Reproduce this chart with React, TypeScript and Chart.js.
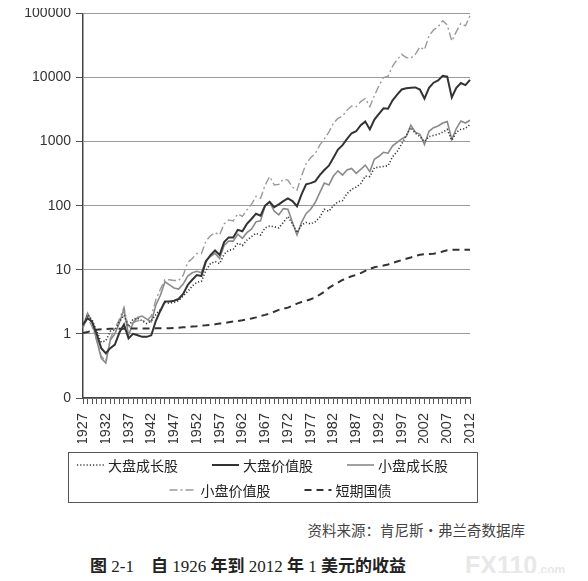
import React, { useEffect, useRef } from "react";
import { Chart, registerables } from "chart.js";

Chart.register(...registerables);

const years = [
  "1927","1928","1929","1930","1931","1932","1933","1934","1935","1936",
  "1937","1938","1939","1940","1941","1942","1943","1944","1945","1946",
  "1947","1948","1949","1950","1951","1952","1953","1954","1955","1956",
  "1957","1958","1959","1960","1961","1962","1963","1964","1965","1966",
  "1967","1968","1969","1970","1971","1972","1973","1974","1975","1976",
  "1977","1978","1979","1980","1981","1982","1983","1984","1985","1986",
  "1987","1988","1989","1990","1991","1992","1993","1994","1995","1996",
  "1997","1998","1999","2000","2001","2002","2003","2004","2005","2006",
  "2007","2008","2009","2010","2011","2012",
];

const xTickLabels = [
  "1927","1932","1937","1942","1947","1952","1957","1962","1967",
  "1972","1977","1982","1987","1992","1997","2002","2007","2012",
];

const yTickValues = [0.1, 1, 10, 100, 1000, 10000, 100000];
const yTickLabels = ["0", "1", "10", "100", "1000", "10000", "100000"];

const seriesNames = ["大盘成长股", "大盘价值股", "小盘成长股", "小盘价值股", "短期国债"];

// 大盘成长股
const largeGrowth = [
  1.35, 2.0, 1.65, 1.1, 0.75, 0.78, 1.1, 1.15, 1.55, 1.95,
  1.3, 1.7, 1.75, 1.6, 1.45, 1.6, 2.0, 2.4, 3.1, 3.0,
  3.1, 3.3, 3.9, 4.6, 5.6, 6.4, 6.6, 9.8, 12.5, 13.5,
  12.5, 17.5, 20, 21, 26, 24, 29, 33, 37, 35,
  45, 48, 47, 45, 55, 68, 52, 38, 50, 55,
  52, 56, 66, 88, 82, 100, 115, 120, 155, 180,
  195, 220, 290, 285, 390, 400, 410, 420, 580, 700,
  920, 1250, 1650, 1350, 1200, 1000, 1200, 1250, 1300, 1400,
  1550, 1050, 1400, 1550, 1600, 1850,
];

// 大盘价值股
const largeValue = [
  1.4, 1.75, 1.55, 1.0, 0.6, 0.5, 0.6, 0.68, 1.05, 1.4,
  0.85, 1.0, 0.95, 0.9, 0.9, 0.95, 1.6, 2.3, 3.2, 3.2,
  3.3, 3.5, 4.2, 5.8, 7.0, 8.3, 8.0, 13.5, 17, 20,
  17, 27, 32, 32, 42, 40, 52, 62, 75, 70,
  100, 115, 95, 105, 118, 130, 118, 98, 150, 215,
  225, 240, 300, 360, 420, 560, 750, 880, 1100, 1350,
  1450, 1800, 2050, 1550, 2200, 2700, 3300, 3250, 4400, 5400,
  6500, 6800, 6900, 7000, 6500, 4700, 6900, 8300, 9000, 10600,
  10300, 4900, 6900, 8200, 7600, 9200,
];

// 小盘成长股
const smallGrowth = [
  1.3, 2.1, 1.5, 0.8, 0.42, 0.35, 0.8, 1.0, 1.5, 2.4,
  0.95, 1.5, 1.8, 1.9, 1.7, 1.55, 2.8, 4.0, 6.5, 5.8,
  5.2, 5.0, 6.0, 8.0, 9.0, 9.5, 9.0, 14, 16, 18,
  15, 24, 28, 28, 36, 31, 38, 43, 56, 58,
  100, 115, 82, 72, 90, 88, 55, 35, 55, 75,
  88, 112, 160, 225, 210, 290, 350, 300, 360, 380,
  320, 370, 430, 340, 530, 590, 680, 660, 860, 970,
  1100, 1200, 1800, 1400, 1300, 900, 1450, 1650, 1750, 1950,
  2050, 1080, 1600, 2100, 1950, 2150,
];

// 小盘价值股
const smallValue = [
  1.25, 1.8, 1.3, 0.8, 0.45, 0.38, 0.85, 1.2, 1.7, 2.6,
  1.2, 1.5, 1.6, 1.6, 1.6, 1.9, 3.4, 5.0, 7.0, 7.0,
  6.8, 6.8, 8.2, 13, 15, 18, 18, 28, 34, 38,
  35, 52, 60, 58, 75, 68, 86, 105, 140, 130,
  210, 285, 210, 215, 260, 250, 195, 175, 290, 450,
  560, 650, 880, 1100, 1400, 1950, 2300, 2500, 3100, 3600,
  3500, 4200, 4700, 3500, 5200, 7500, 10000, 10500, 15000, 19000,
  23000, 20500, 20000, 23000, 30000, 27000, 45000, 55000, 62000, 77000,
  66000, 37000, 52000, 70000, 64000, 92000,
];

// 短期国债
const tBills = [
  1.03, 1.07, 1.12, 1.16, 1.18, 1.19, 1.2, 1.2, 1.2, 1.2,
  1.21, 1.21, 1.21, 1.21, 1.21, 1.21, 1.22, 1.22, 1.23, 1.23,
  1.24, 1.25, 1.27, 1.28, 1.3, 1.32, 1.35, 1.36, 1.38, 1.41,
  1.45, 1.47, 1.52, 1.56, 1.59, 1.63, 1.68, 1.74, 1.81, 1.9,
  1.98, 2.08, 2.22, 2.37, 2.47, 2.57, 2.75, 2.97, 3.14, 3.3,
  3.47, 3.72, 4.1, 4.55, 5.22, 5.78, 6.29, 6.93, 7.47, 7.93,
  8.35, 8.88, 9.6, 10.35, 10.93, 11.31, 11.65, 12.11, 12.8, 13.47,
  14.18, 14.89, 15.58, 16.49, 17.16, 17.44, 17.62, 17.84, 18.38, 19.26,
  20.17, 20.46, 20.48, 20.51, 20.52, 20.53,
];

const boxedLegend = {
  id: "boxedLegend",
  afterDraw(chart: any) {
    const { ctx, chartArea } = chart;
    const xScale = chart.scales.x;
    const top = xScale.bottom + 9;
    const bottom = chart.height - 4;
    const left = chartArea.left - 15;
    const right = chartArea.right + 7;
    ctx.save();
    ctx.strokeStyle = "#555";
    ctx.lineWidth = 1;
    ctx.setLineDash([]);
    ctx.strokeRect(Math.round(left) + 0.5, Math.round(top) + 0.5, right - left, bottom - top);
    ctx.font = '14px "Noto Sans CJK SC"';
    ctx.textBaseline = "middle";
    ctx.textAlign = "left";
    const rows = [[0, 1, 2], [3, 4]];
    const rowY = [top + 13, top + 38];
    const rowShift = [-10, 8];
    const sampleW = 27;
    const textGap = 4;
    const itemGap = 34;
    rows.forEach((row, r) => {
      const widths = row.map(
        (i) => sampleW + textGap + ctx.measureText(chart.data.datasets[i].label).width
      );
      const total = widths.reduce((a: number, b: number) => a + b, 0) + itemGap * (row.length - 1);
      let x = (left + right) / 2 - total / 2 + rowShift[r];
      row.forEach((i, k) => {
        const ds = chart.data.datasets[i];
        ctx.save();
        ctx.strokeStyle = ds.borderColor;
        ctx.lineWidth = ds.borderWidth;
        ctx.setLineDash(ds.borderDash || []);
        ctx.lineCap = ds.borderCapStyle || "butt";
        ctx.beginPath();
        ctx.moveTo(x, rowY[r]);
        ctx.lineTo(x + sampleW, rowY[r]);
        ctx.stroke();
        ctx.restore();
        ctx.fillStyle = "#222";
        ctx.fillText(ds.label, x + sampleW + textGap, rowY[r] + 0.5);
        x += widths[k] + itemGap;
      });
    });
    ctx.restore();
  },
};

const cjk = { fontFamily: '"Noto Sans CJK SC", sans-serif', fontWeight: 700 } as const;

export default function App() {
  const canvasRef = useRef<HTMLCanvasElement | null>(null);

  useEffect(() => {
    document.documentElement.style.overflow = "hidden";
    if (!canvasRef.current) return;
    const tickFont = { family: '"Liberation Sans", Arial, sans-serif', size: 14 };
    const chart = new Chart(canvasRef.current, {
      type: "line",
      data: {
        labels: years,
        datasets: [
          {
            label: seriesNames[0],
            data: largeGrowth,
            borderColor: "#3a3a3a",
            borderWidth: 1.6,
            borderDash: [1.2, 2],
            pointRadius: 0,
            tension: 0,
            fill: false,
            order: 2,
          },
          {
            label: seriesNames[1],
            data: largeValue,
            borderColor: "#333333",
            borderWidth: 2,
            borderDash: [],
            pointRadius: 0,
            tension: 0,
            fill: false,
            order: 0,
          },
          {
            label: seriesNames[2],
            data: smallGrowth,
            borderColor: "#8a8a8a",
            borderWidth: 1.6,
            borderDash: [],
            pointRadius: 0,
            tension: 0,
            fill: false,
            order: 3,
          },
          {
            label: seriesNames[3],
            data: smallValue,
            borderColor: "#9a9a9a",
            borderWidth: 1.4,
            borderDash: [8, 3, 2, 3],
            pointRadius: 0,
            tension: 0,
            fill: false,
            order: 4,
          },
          {
            label: seriesNames[4],
            data: tBills,
            borderColor: "#333333",
            borderWidth: 2,
            borderDash: [7, 5],
            pointRadius: 0,
            tension: 0,
            fill: false,
            order: 1,
          },
        ],
      },
      options: {
        animation: false,
        responsive: true,
        maintainAspectRatio: false,
        layout: { padding: { top: 10, right: 110, bottom: 63, left: 0 } },
        plugins: {
          legend: { display: false },
          tooltip: { enabled: false },
        },
        scales: {
          x: {
            type: "category",
            offset: false,
            grid: {
              drawOnChartArea: false,
              drawTicks: true,
              tickLength: 6,
              tickColor: "#555",
            },
            border: { color: "#444", width: 1.5 },
            ticks: {
              autoSkip: false,
              maxRotation: 90,
              minRotation: 90,
              padding: 9,
              color: "#333",
              font: { ...tickFont, size: 14.5 },
              callback: (_v: any, i: number) =>
                xTickLabels.includes(years[i]) ? years[i] : "",
            },
            afterFit: (s: any) => {
              s.height = 45;
            },
          },
          y: {
            type: "logarithmic",
            min: 0.1,
            max: 100000,
            afterBuildTicks: (s: any) => {
              s.ticks = yTickValues.map((v) => ({ value: v }));
            },
            afterFit: (s: any) => {
              s.width = 75;
            },
            grid: {
              color: "#9a9a9a",
              lineWidth: 1,
              drawTicks: true,
              tickLength: 7,
              tickColor: "#555",
            },
            border: { color: "#444", width: 1.5 },
            ticks: {
              autoSkip: false,
              padding: 5,
              color: "#333",
              font: tickFont,
              callback: (v: any) => {
                const idx = yTickValues.indexOf(Number(v));
                return idx >= 0 ? yTickLabels[idx] : "";
              },
            },
          },
        },
      },
      plugins: [boxedLegend],
    } as any);
    return () => chart.destroy();
  }, []);

  return (
    <div style={{ position: "relative", width: 572, height: 565 }}>
      <div style={{ position: "absolute", left: 0, top: -8, width: 572, height: 506 }}>
        <canvas ref={canvasRef} />
      </div>
      <div
        style={{
          position: "absolute",
          right: 55,
          top: 515,
          fontFamily: '"Noto Sans CJK SC", sans-serif',
          fontSize: 14.5,
          lineHeight: 1,
          color: "#444",
          whiteSpace: "nowrap",
        }}
      >
        资料来源：肯尼斯·弗兰奇数据库
      </div>
      <div
        style={{
          position: "absolute",
          left: 82,
          top: 548,
          fontSize: 17,
          lineHeight: 1,
          color: "#222",
          whiteSpace: "nowrap",
          fontFamily: '"Liberation Serif", "Noto Sans CJK SC", serif',
        }}
      >
        <span style={cjk}>图</span>
        <span> 2-1&nbsp;&nbsp;&nbsp;&nbsp;</span>
        <span style={cjk}>自</span>
        <span> 1926 </span>
        <span style={cjk}>年到</span>
        <span> 2012 </span>
        <span style={cjk}>年</span>
        <span> 1 </span>
        <span style={cjk}>美元的收益</span>
      </div>
      <div
        style={{
          position: "absolute",
          left: 457,
          top: 546,
          height: 22,
          color: "#e8e8e8",
          fontFamily: '"Liberation Sans", Arial, sans-serif',
          fontWeight: 700,
          whiteSpace: "nowrap",
          lineHeight: "22px",
        }}
      >
        <span style={{ fontSize: 25 }}>FX110</span>
        <span style={{ fontSize: 12 }}>.com</span>
      </div>
    </div>
  );
}
